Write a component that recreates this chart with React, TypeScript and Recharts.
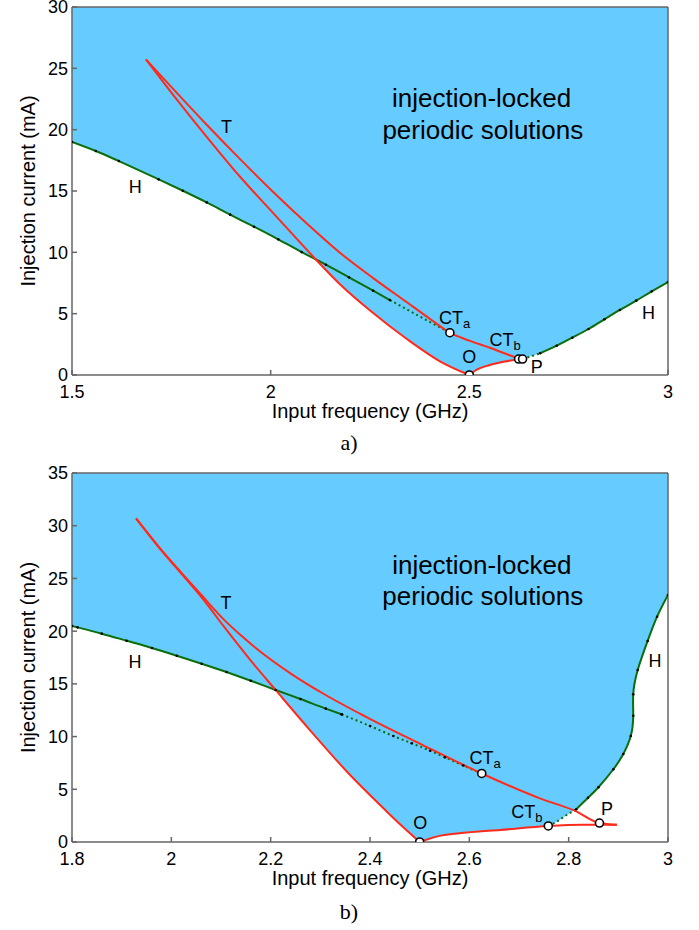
import React from 'react';
import { ComposedChart, Area, Line, Scatter, XAxis, YAxis, ReferenceLine } from 'recharts';

type Pt = { x: number; y: number };
type Lbl = { x: number; y: number; text: string; sub?: string };

const pts = (a: number[][]): Pt[] => a.map(([x, y]) => ({ x, y }));

// ---------- Panel a ----------
const xTicksA = [1.5, 2, 2.5, 3];
const yTicksA = [0, 5, 10, 15, 20, 25, 30];
const hLeftA = pts([[1.5, 19.0], [1.56, 18.26], [1.618, 17.44], [1.718, 15.95], [1.779, 15.02], [1.839, 14.07], [1.898, 13.07], [1.958, 12.09], [2.019, 11.06], [2.078, 10.02], [2.139, 8.99], [2.197, 7.96], [2.258, 6.87], [2.3, 6.11]]);
const hDashA = pts([[2.3, 6.11], [2.35, 5.22], [2.4, 4.33], [2.451, 3.45]]);
const tUpperA = pts([[1.686, 25.73], [1.755, 23.3], [1.839, 20.4], [1.923, 17.6], [2.007, 14.9], [2.091, 12.35], [2.175, 9.95], [2.258, 7.9], [2.342, 5.95], [2.4, 4.6], [2.451, 3.45], [2.5, 2.8], [2.552, 2.22], [2.59, 1.75], [2.628, 1.3]]);
const tLowerA = pts([[1.686, 25.73], [1.755, 22.82], [1.839, 19.42], [1.923, 16.16], [2.007, 13.18], [2.112, 9.48], [2.175, 7.38], [2.258, 5.05], [2.342, 2.95], [2.426, 1.12], [2.5, 0]]);
const opA = pts([[2.5, 0], [2.52, 0.45], [2.55, 0.8], [2.59, 1.1], [2.628, 1.3]]);
const hDotRightA = pts([[2.634, 1.32], [2.655, 1.52], [2.678, 1.77]]);
const hRightA = pts([[2.678, 1.77], [2.72, 2.39], [2.759, 3.04], [2.8, 3.75], [2.84, 4.54], [2.879, 5.3], [2.92, 6.06], [2.959, 6.82], [3, 7.58]]);
const markersA = pts([[2.451, 3.45], [2.5, 0], [2.624, 1.3], [2.634, 1.3]]);
const labelsA: Lbl[] = [
  { x: 1.889, y: 20.24, text: 'T' },
  { x: 1.659, y: 15.35, text: 'H' },
  { x: 2.951, y: 5.03, text: 'H' },
  { x: 2.463, y: 4.65, text: 'CT', sub: 'a' },
  { x: 2.59, y: 2.85, text: 'CT', sub: 'b' },
  { x: 2.5, y: 1.44, text: 'O' },
  { x: 2.67, y: 0.68, text: 'P' },
];
const regionTextA: Lbl[] = [
  { x: 2.531, y: 22.55, text: 'injection-locked' },
  { x: 2.534, y: 19.97, text: 'periodic solutions' },
];

// ---------- Panel b ----------
const xTicksB = [1.8, 2, 2.2, 2.4, 2.6, 2.8, 3];
const yTicksB = [0, 5, 10, 15, 20, 25, 30, 35];
const hLeftB = pts([[1.8, 20.49], [1.811, 20.36], [1.86, 19.76], [1.91, 19.09], [1.961, 18.4], [2.011, 17.67], [2.061, 16.91], [2.111, 16.12], [2.16, 15.3], [2.21, 14.42], [2.26, 13.56], [2.311, 12.65], [2.343, 12.11]]);
const hDashB = pts([[2.343, 12.11], [2.4, 11.0], [2.447, 10.05], [2.484, 9.36], [2.521, 8.66], [2.551, 8.03], [2.588, 7.25], [2.625, 6.48]]);
const tUpperB = pts([[1.929, 30.7], [1.974, 28.05], [2.021, 25.5], [2.061, 23.4], [2.108, 21.0], [2.14, 19.6], [2.175, 18.21], [2.242, 15.93], [2.309, 13.99], [2.39, 11.92], [2.5, 9.34], [2.625, 6.5], [2.742, 4.14], [2.813, 2.95], [2.862, 1.8], [2.897, 1.63]]);
const tLowerB = pts([[1.929, 30.7], [1.974, 28.0], [2.021, 25.4], [2.061, 23.2], [2.108, 20.3], [2.16, 17.2], [2.21, 14.42], [2.279, 10.62], [2.36, 6.35], [2.427, 3.2], [2.46, 1.7], [2.5, 0]]);
const opB = pts([[2.5, 0], [2.534, 0.51], [2.595, 0.89], [2.662, 1.14], [2.759, 1.52], [2.83, 1.63], [2.897, 1.63]]);
const hDotRightB = pts([[2.759, 1.52], [2.776, 1.93], [2.796, 2.56], [2.815, 3.1]]);
const hRightB = pts([[2.815, 3.1], [2.839, 4.2], [2.86, 5.19], [2.89, 6.9], [2.91, 8.35], [2.925, 10.05], [2.93, 11.98], [2.93, 14.01], [2.939, 16.31], [2.959, 19.07], [2.978, 21.37], [3, 23.43]]);
const markersB = pts([[2.625, 6.5], [2.5, 0], [2.759, 1.52], [2.862, 1.8]]);
const labelsB: Lbl[] = [
  { x: 2.11, y: 22.7, text: 'T' },
  { x: 1.927, y: 17.1, text: 'H' },
  { x: 2.974, y: 17.17, text: 'H' },
  { x: 2.632, y: 7.97, text: 'CT', sub: 'a' },
  { x: 2.716, y: 2.85, text: 'CT', sub: 'b' },
  { x: 2.501, y: 1.77, text: 'O' },
  { x: 2.877, y: 3.13, text: 'P' },
];
const regionTextB: Lbl[] = [
  { x: 2.625, y: 26.27, text: 'injection-locked' },
  { x: 2.627, y: 23.33, text: 'periodic solutions' },
];

// ---------- styling ----------
const FONT = '"Liberation Sans", Arial, sans-serif';
const GREEN = '#0a6e0a';
const RED = '#ff2a1a';
const BLUE = '#66ccff';
const AXIS = '#666666';

type Series = { data: Pt[]; color: string; dashed?: boolean; dots?: boolean; curve?: 'monotone' | 'natural' };

const bandA = [
  ...hLeftA.filter((p) => p.x < 2.112),
  ...tLowerA.filter((p) => p.x >= 2.112),
  ...opA.slice(1),
  ...hDotRightA,
  ...hRightA.slice(1),
];
const bandB = [
  ...hLeftB.filter((p) => p.x < 2.21),
  ...tLowerB.filter((p) => p.x >= 2.21),
  ...opB.slice(1).filter((p) => p.x <= 2.759),
  ...hDotRightB.slice(1),
  ...hRightB.slice(1),
];

const seriesA: Series[] = [
  { data: hLeftA, color: GREEN, dots: true },
  { data: hDashA, color: GREEN, dashed: true },
  { data: hDotRightA, color: GREEN, dashed: true },
  { data: hRightA, color: GREEN, dots: true },
  { data: tUpperA, color: RED },
  { data: tLowerA, color: RED },
  { data: opA, color: RED },
];
const seriesB: Series[] = [
  { data: hLeftB, color: GREEN, dots: true },
  { data: hDashB, color: GREEN, dashed: true, dots: true },
  { data: hDotRightB, color: GREEN, dashed: true },
  { data: hRightB, color: GREEN, dots: true, curve: 'natural' },
  { data: tUpperB, color: RED },
  { data: tLowerB, color: RED },
  { data: opB, color: RED },
];

const AnnoShape = (p: any) => {
  const { cx, cy, payload } = p;
  return (
    <text x={cx} y={cy} textAnchor="middle" dominantBaseline="central" fontSize={18} fontFamily={FONT} fill="#000">
      {payload.text}
      {payload.sub ? (
        <tspan fontSize={13} dy={5}>
          {payload.sub}
        </tspan>
      ) : null}
    </text>
  );
};

const RegionShape = (p: any) => (
  <text x={p.cx} y={p.cy} textAnchor="middle" dominantBaseline="central" fontSize={26} fontFamily={FONT} fill="#000">
    {p.payload.text}
  </text>
);

const MarkerShape = (p: any) => <circle cx={p.cx} cy={p.cy} r={4} fill="#fff" stroke="#000" strokeWidth={1.6} />;

const XTitle = (props: any) => {
  const vb = props.viewBox || {};
  return (
    <text x={vb.x + vb.width / 2} y={vb.y + 43} textAnchor="middle" fontSize={20} fontFamily={FONT} fill="#000">
      Input frequency (GHz)
    </text>
  );
};

const YTitle = (props: any) => {
  const vb = props.viewBox || {};
  const bx = 35;
  const cy = vb.y + vb.height / 2;
  return (
    <text x={bx} y={cy} transform={`rotate(-90, ${bx}, ${cy})`} textAnchor="middle" fontSize={20} fontFamily={FONT} fill="#000">
      Injection current (mA)
    </text>
  );
};

type PanelProps = {
  width: number;
  height: number;
  margin: { top: number; right: number; bottom: number; left: number };
  xDomain: [number, number];
  yDomain: [number, number];
  xTicks: number[];
  yTicks: number[];
  band: Pt[];
  series: Series[];
  markers: Pt[];
  labels: Lbl[];
  regionText: Lbl[];
};

function Panel(p: PanelProps) {
  const bandData = p.band.map((d) => ({ x: d.x, band: [d.y, p.yDomain[1]] }));
  const tickStyle = { fill: '#000', fontSize: 18, fontFamily: FONT };
  return (
    <ComposedChart width={p.width} height={p.height} margin={p.margin} data={bandData}>
      <XAxis
        type="number"
        dataKey="x"
        domain={p.xDomain}
        ticks={p.xTicks}
        interval={0}
        allowDataOverflow
        height={50}
        tickSize={-5}
        tickMargin={15}
        stroke={AXIS}
        strokeWidth={1.5}
        tick={tickStyle}
        label={XTitle}
      />
      <YAxis
        type="number"
        domain={p.yDomain}
        ticks={p.yTicks}
        interval={0}
        allowDataOverflow
        width={72}
        tickSize={-5}
        tickMargin={9}
        stroke={AXIS}
        strokeWidth={1.5}
        tick={tickStyle}
        label={YTitle}
      />
      <Area dataKey="band" type="linear" stroke="none" fill={BLUE} fillOpacity={1} isAnimationActive={false} activeDot={false} />
      <ReferenceLine y={p.yDomain[1]} stroke={AXIS} strokeWidth={1.5} />
      <ReferenceLine x={p.xDomain[1]} stroke={AXIS} strokeWidth={1.5} />
      {p.series.map((s, i) => (
        <Line
          key={i}
          data={s.data}
          dataKey="y"
          type={s.curve || 'monotone'}
          stroke={s.color}
          strokeWidth={2}
          strokeDasharray={s.dashed ? '2 3' : undefined}
          dot={s.dots ? { r: 1.3, fill: '#000', stroke: 'none' } : false}
          activeDot={false}
          isAnimationActive={false}
        />
      ))}
      <Scatter data={p.markers} dataKey="y" shape={MarkerShape} isAnimationActive={false} />
      <Scatter data={p.labels} dataKey="y" shape={AnnoShape} isAnimationActive={false} />
      <Scatter data={p.regionText} dataKey="y" shape={RegionShape} isAnimationActive={false} />
    </ComposedChart>
  );
}

export default function App() {
  return (
    <div style={{ position: 'absolute', left: 0, top: 0, width: 699, height: 930, background: '#fff' }}>
      <div style={{ position: 'absolute', left: 0, top: 0 }}>
        <Panel
          width={699}
          height={430}
          margin={{ top: 7, right: 31, bottom: 5, left: 0 }}
          xDomain={[1.5, 3]}
          yDomain={[0, 30]}
          xTicks={xTicksA}
          yTicks={yTicksA}
          band={bandA}
          series={seriesA}
          markers={markersA}
          labels={labelsA}
          regionText={regionTextA}
        />
      </div>
      <div style={{ position: 'absolute', left: 0, top: 430 }}>
        <Panel
          width={699}
          height={500}
          margin={{ top: 43, right: 31, bottom: 38, left: 0 }}
          xDomain={[1.8, 3]}
          yDomain={[0, 35]}
          xTicks={xTicksB}
          yTicks={yTicksB}
          band={bandB}
          series={seriesB}
          markers={markersB}
          labels={labelsB}
          regionText={regionTextB}
        />
      </div>
      <svg width={699} height={930} style={{ position: 'absolute', left: 0, top: 0, pointerEvents: 'none' }}>
        <text x={349} y={450} textAnchor="middle" fontSize={22} fontFamily='"Liberation Serif", "Times New Roman", serif' fill="#000">
          a)
        </text>
        <text x={349} y={919} textAnchor="middle" fontSize={22} fontFamily='"Liberation Serif", "Times New Roman", serif' fill="#000">
          b)
        </text>
      </svg>
    </div>
  );
}
